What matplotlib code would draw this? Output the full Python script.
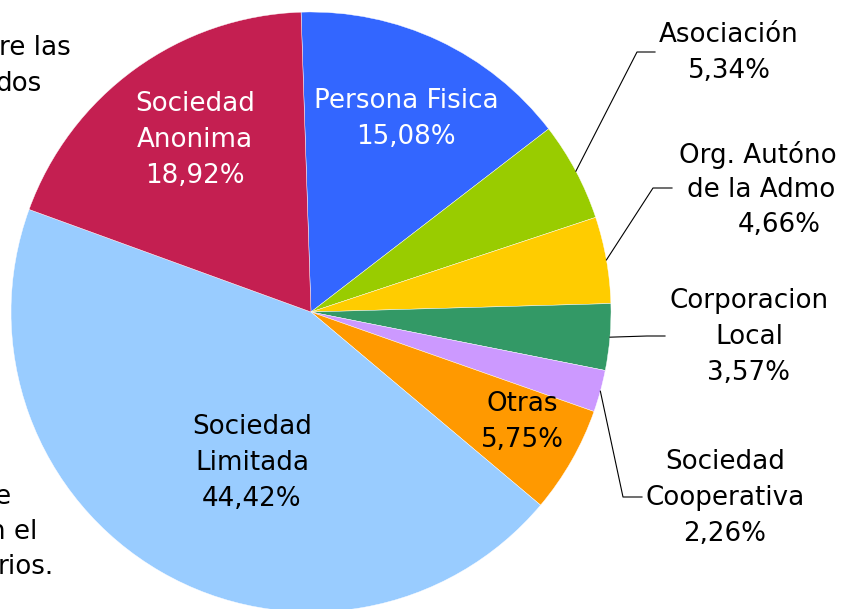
import numpy as np
import matplotlib
matplotlib.use('Agg')
import matplotlib.pyplot as plt

labels = ['Persona Fisica', 'Asociación', 'Org. Autóno de la Admo', 'Corporacion Local',
          'Sociedad Cooperativa', 'Otras', 'Sociedad Limitada', 'Sociedad Anonima']
values = [15.08, 5.34, 4.66, 3.57, 2.26, 5.75, 44.42, 18.92]
colors = ['#3366FF', '#99CC00', '#FFCC00', '#339966', '#CC99FF', '#FF9900', '#99CCFF', '#C41F51']

W, H = 841, 609
CX, CY, R = 311, 312, 300

fig = plt.figure(figsize=(W / 100, H / 100), dpi=100)
ax = fig.add_axes([0, 0, 1, 1])

wedges, _ = ax.pie(values, colors=colors, startangle=91.9, counterclock=False,
                   center=(CX, H - CY), radius=R, frame=True,
                   wedgeprops=dict(edgecolor='white', linewidth=0.3))
ax.set_xlim(0, W)
ax.set_ylim(0, H)
ax.set_aspect('equal')
ax.axis('off')

fs = 18.8
def txt(x, y, s, color='black', ha='center'):
    ax.text(x, H - y, s, fontsize=fs, color=color, ha=ha, va='center', family='DejaVu Sans')

# etiquetas dentro
def inside(x, y, lines, color):
    for i, s in enumerate(lines):
        txt(x, y + i * 36, s, color)

inside(406, 101, ['Persona Fisica', '15,08%'], 'white')
inside(195, 104, ['Sociedad', 'Anonima', '18,92%'], 'white')
inside(252, 427, ['Sociedad', 'Limitada', '44,42%'], 'black')
inside(522, 404, ['Otras', '5,75%'], 'black')

# etiquetas fuera
inside(729, 35, ['Asociación', '5,34%'], 'black')
txt(837, 155, 'Org. Autóno', ha='right')
txt(835, 190, 'de la Admo', ha='right')
txt(821, 225, '4,66%', ha='right')
inside(749, 301, ['Corporacion', 'Local', '3,57%'], 'black')
inside(725, 462, ['Sociedad', 'Cooperativa', '2,26%'], 'black')

# lineas guia desde el punto medio de cada porcion
elbows = {1: [(637, 52), (655, 52)],
          2: [(653, 188), (672, 188)],
          3: [(647, 336), (665, 336)],
          4: [(623, 497), (642, 497)]}
for i, pts in elbows.items():
    w = wedges[i]
    a = np.deg2rad((w.theta1 + w.theta2) / 2)
    x0 = CX + R * np.cos(a)
    y0 = CY - R * np.sin(a)
    xs = [x0] + [p[0] for p in pts]
    ys = [H - y0] + [H - p[1] for p in pts]
    ax.plot(xs, ys, color='black', lw=0.8)

# texto cortado en el borde izquierdo
txt(-1, 48, 're las', ha='left')
txt(42, 84, 'dos', ha='right')
txt(11, 497, 'e', ha='right')
txt(37, 532, 'n el', ha='right')
txt(54, 567, 'rios.', ha='right')

fig.savefig('out.png', dpi=100)
